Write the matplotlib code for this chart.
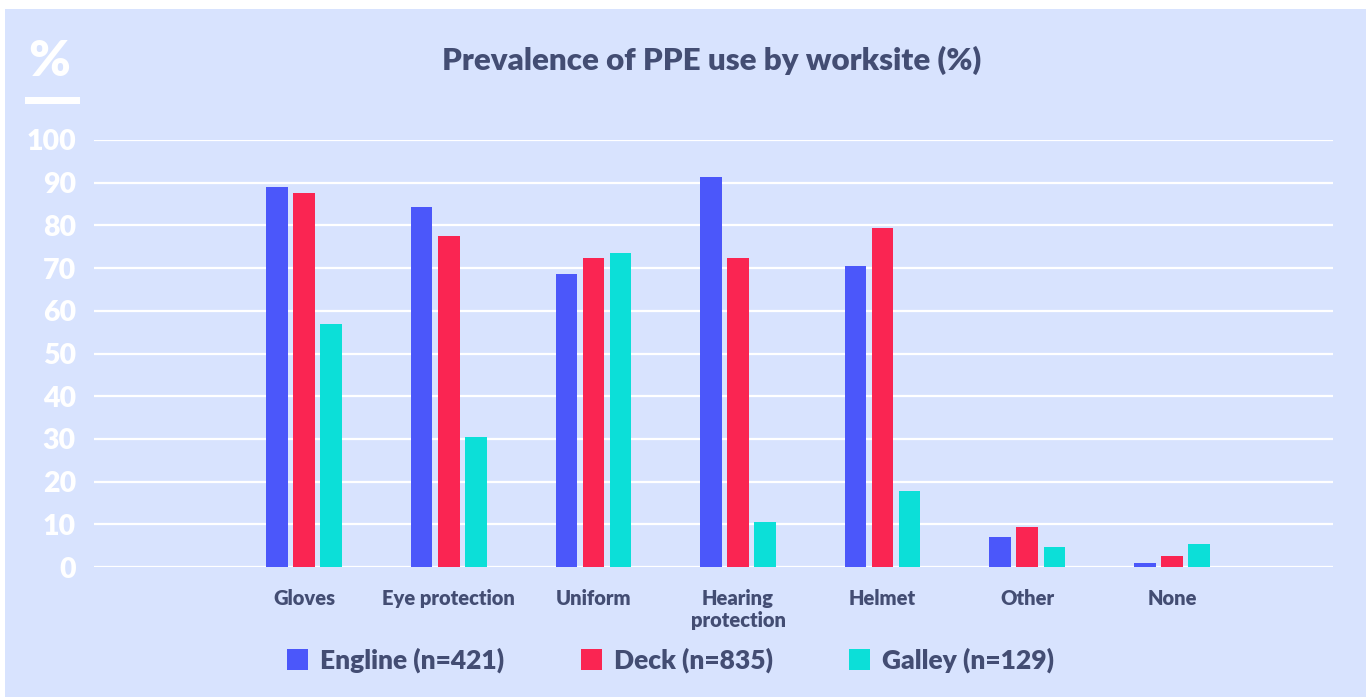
import numpy as np
import matplotlib.pyplot as plt
from matplotlib.patches import Rectangle

categories = ["Gloves", "Eye protection", "Uniform", "Hearing\nprotection", "Helmet", "Other", "None"]
engine = [89.1, 84.3, 68.7, 91.4, 70.5, 7.1, 0.9]
deck = [87.5, 77.5, 72.4, 72.4, 79.5, 9.4, 2.6]
galley = [56.8, 30.4, 73.5, 10.5, 17.8, 4.8, 5.5]
series_names = ["Engline (n=421)", "Deck (n=835)", "Galley (n=129)"]
yticks = [0, 10, 20, 30, 40, 50, 60, 70, 80, 90, 100]

BG = "#d8e3fe"
NAVY = "#434d73"
colors = ["#4b57fa", "#fa2552", "#0cdfd8"]

W, H = 1371, 697
fig = plt.figure(figsize=(W / 100, H / 100), dpi=100, facecolor="white")
# light blue card behind everything
fig.patches.append(Rectangle((5 / W, 0), (1366 - 5) / W, (H - 9) / H,
                             transform=fig.transFigure, facecolor=BG, edgecolor="none", zorder=-5))

ax = fig.add_axes([94 / W, (H - 567) / H, (1333 - 94) / W, (567 - 140) / H])
ax.set_zorder(2)
ax.patch.set_alpha(0)

x = np.arange(len(categories))
bw = 0.149
step = 0.187
for i, (vals, name) in enumerate(zip([engine, deck, galley], series_names)):
    ax.bar(x + (i - 1) * step, vals, width=bw, color=colors[i], label=name, zorder=3)

ax.set_ylim(0, 100)
ax.set_xlim(-1.453, 7.114)
ax.set_yticks(yticks)
ax.set_xticks(x)
ax.set_xticklabels(categories)
ax.grid(axis="y", color="white", linewidth=1.6, zorder=1)
ax.set_axisbelow(True)
for s in ax.spines.values():
    s.set_visible(False)
ax.tick_params(axis="both", length=0)
ax.tick_params(axis="y", pad=13, labelsize=20.5, labelcolor="white")
ax.tick_params(axis="x", pad=16, labelsize=14.5, labelcolor=NAVY)
for t in ax.get_yticklabels():
    t.set_fontfamily("Lato")
    t.set_fontweight("heavy")
for t in ax.get_xticklabels():
    t.set_fontfamily("Lato")
    t.set_fontweight("heavy")
    t.set_linespacing(1.15)

fig.text(712 / W, 1 - 60 / H, "Prevalence of PPE use by worksite (%)", ha="center", va="center",
         fontsize=22.5, fontweight="heavy", fontfamily="Lato", color=NAVY)

fig.text(49 / W, 1 - 62 / H, "%", ha="center", va="center", fontsize=36,
         fontweight="heavy", fontfamily="Lato", color="white")
fig.patches.append(Rectangle((25 / W, 1 - 104 / H), 55 / W, 7 / H,
                             transform=fig.transFigure, facecolor="white", edgecolor="none"))

leg = ax.legend(loc="center left", bbox_to_anchor=(287 / W, 1 - 660 / H),
                bbox_transform=fig.transFigure, ncol=3, frameon=False,
                prop={"family": "Lato", "weight": "heavy", "size": 19},
                handlelength=0.8, handleheight=0.85, handletextpad=0.45,
                columnspacing=2.9, borderpad=0, borderaxespad=0)
for t in leg.get_texts():
    t.set_color(NAVY)

fig.savefig("out.png", dpi=100, facecolor="white")
